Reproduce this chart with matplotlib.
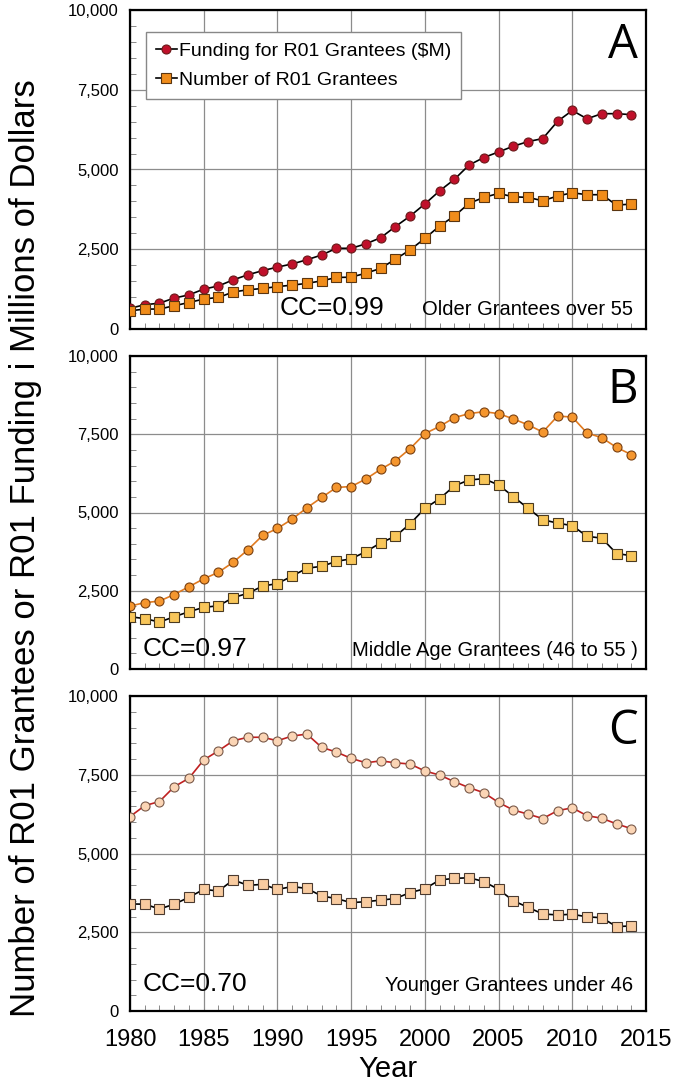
import matplotlib.pyplot as plt
from matplotlib.ticker import MultipleLocator, FuncFormatter

years = list(range(1980, 2015))

# Panel A - older grantees over 55
fund_old = [650, 760, 810, 970, 1070, 1250, 1350, 1540, 1700, 1830, 1940, 2040, 2170, 2320,
            2530, 2530, 2670, 2860, 3210, 3540, 3920, 4330, 4690, 5140, 5375, 5550, 5730,
            5875, 5970, 6510, 6850, 6590, 6750, 6750, 6720]
num_old = [570, 625, 625, 730, 830, 940, 990, 1160, 1230, 1270, 1330, 1375, 1430, 1510,
           1615, 1625, 1750, 1900, 2190, 2480, 2840, 3230, 3540, 3940, 4125, 4250, 4145,
           4125, 4020, 4170, 4270, 4210, 4210, 3885, 3915]

# Panel B - middle age grantees (46 to 55)
fund_mid = [2010, 2120, 2170, 2380, 2630, 2880, 3090, 3410, 3810, 4270, 4490, 4790, 5150,
            5480, 5800, 5830, 6070, 6380, 6650, 7040, 7520, 7750, 8030, 8160, 8220, 8160,
            7990, 7800, 7570, 8080, 8050, 7540, 7390, 7080, 6850]
num_mid = [1670, 1610, 1500, 1670, 1830, 1970, 2020, 2280, 2420, 2650, 2730, 2970, 3220,
           3280, 3440, 3520, 3750, 4030, 4240, 4640, 5130, 5440, 5850, 6040, 6080, 5880,
           5510, 5130, 4770, 4660, 4580, 4240, 4180, 3690, 3620]

# Panel C - younger grantees under 46
fund_young = [6170, 6520, 6650, 7120, 7390, 7970, 8260, 8580, 8690, 8690, 8580, 8730, 8790,
              8370, 8220, 8020, 7880, 7940, 7880, 7840, 7620, 7490, 7280, 7090, 6930, 6620,
              6380, 6250, 6110, 6360, 6450, 6200, 6120, 5940, 5790]
num_young = [3400, 3390, 3240, 3390, 3610, 3860, 3810, 4160, 3990, 4020, 3860, 3950, 3890,
             3650, 3570, 3440, 3470, 3520, 3570, 3760, 3880, 4160, 4210, 4230, 4110, 3860,
             3500, 3290, 3080, 3050, 3070, 2990, 2960, 2680, 2700]

panel_letters = ["A", "B", "C"]
cc_labels = ["CC=0.99", "CC=0.97", "CC=0.70"]
group_labels = ["Older Grantees over 55", "Middle Age Grantees (46 to 55 )",
                "Younger Grantees under 46"]

narrow = ['Liberation Sans Narrow', 'Liberation Sans', 'DejaVu Sans']
plt.rcParams['font.family'] = ['Liberation Sans', 'DejaVu Sans']

W, H = 677, 1089
fig = plt.figure(figsize=(W / 100, H / 100), dpi=100)

# axes boxes in pixels: (top, bottom)
boxes = [(10, 329), (356, 669), (696, 1011)]
left, right = 130, 646

styles = [
    # (fund face, fund edge, fund line, num face, num edge, num line)
    ("#c0102a", "#6a1a1a", "black", "#f08c1a", "#5a3510", "black"),
    ("#f5962e", "#7a4010", "#e07a20", "#f8c65a", "#4a3a20", "black"),
    ("#fbd5b5", "#7a5a4a", "#c02020", "#f8cba0", "#4a3a30", "black"),
]

axes = []
for i, (top, bot) in enumerate(boxes):
    ax = fig.add_axes([left / W, 1 - bot / H, (right - left) / W, (bot - top) / H])
    axes.append(ax)
    fund = [fund_old, fund_mid, fund_young][i]
    num = [num_old, num_mid, num_young][i]
    ff, fe, fl, nf, ne, nl = styles[i]

    ax.plot(years, fund, color=fl, lw=1.2, marker='o', ms=6.5, mfc=ff, mec=fe, mew=0.8,
            label="Funding for R01 Grantees ($M)", zorder=3)
    ax.plot(years, num, color=nl, lw=1.2, marker='s', ms=7.5, mfc=nf, mec=ne, mew=0.8,
            label="Number of R01 Grantees", zorder=3)

    ax.set_xlim(1980, 2015)
    ax.set_ylim(0, 10000)
    ax.xaxis.set_major_locator(MultipleLocator(5))
    ax.xaxis.set_minor_locator(MultipleLocator(1))
    ax.yaxis.set_major_locator(MultipleLocator(2500))
    ax.yaxis.set_minor_locator(MultipleLocator(500))
    ax.yaxis.set_major_formatter(FuncFormatter(lambda v, p: f"{int(v):,}"))
    ax.grid(True, which='major', color='#8c8c8c', lw=0.9)
    ax.set_axisbelow(True)
    ax.tick_params(which='both', direction='in', top=False, right=False)
    ax.tick_params(which='major', length=0)
    ax.tick_params(which='minor', length=4, color='#777777')
    for lab in ax.get_yticklabels():
        lab.set_family(narrow)
        lab.set_fontsize(12)
    ax.tick_params(axis='y', pad=8)
    for sp in ax.spines.values():
        sp.set_linewidth(1.6)
        sp.set_color('black')

    if i < 2:
        ax.tick_params(axis='x', labelbottom=False)
    else:
        ax.tick_params(axis='x', labelsize=17, pad=13)
        ax.set_xlabel("Year", fontsize=21, labelpad=3)

    ax.text(0.985, 0.965, panel_letters[i], transform=ax.transAxes, ha='right', va='top',
            fontsize=34, family=['Open Sans', 'DejaVu Sans'])

cc_pos = [(0.29, 0.065), (0.025, 0.065), (0.025, 0.085)]
grp_pos = [(0.975, 0.06), (0.985, 0.06), (0.975, 0.08)]
for i, ax in enumerate(axes):
    x, y = cc_pos[i]
    ax.text(x, y, cc_labels[i], transform=ax.transAxes, ha='left', va='center',
            fontsize=19, family=narrow)
    x, y = grp_pos[i]
    ax.text(x, y, group_labels[i], transform=ax.transAxes, ha='right', va='center',
            fontsize=14.5, family=narrow)

leg = axes[0].legend(loc='upper left', bbox_to_anchor=(0.012, 0.96), fontsize=14,
                     handlelength=1.1, handletextpad=0.1, borderpad=0.5, labelspacing=0.6,
                     fancybox=False, framealpha=1, edgecolor='#888888')
leg.get_frame().set_linewidth(1.0)

fig.text(26 / W, 1 - 548 / H, "Number of R01 Grantees or R01 Funding i Millions of Dollars",
         rotation=90, ha='center', va='center', fontsize=25)

fig.savefig("out.png", dpi=100)
